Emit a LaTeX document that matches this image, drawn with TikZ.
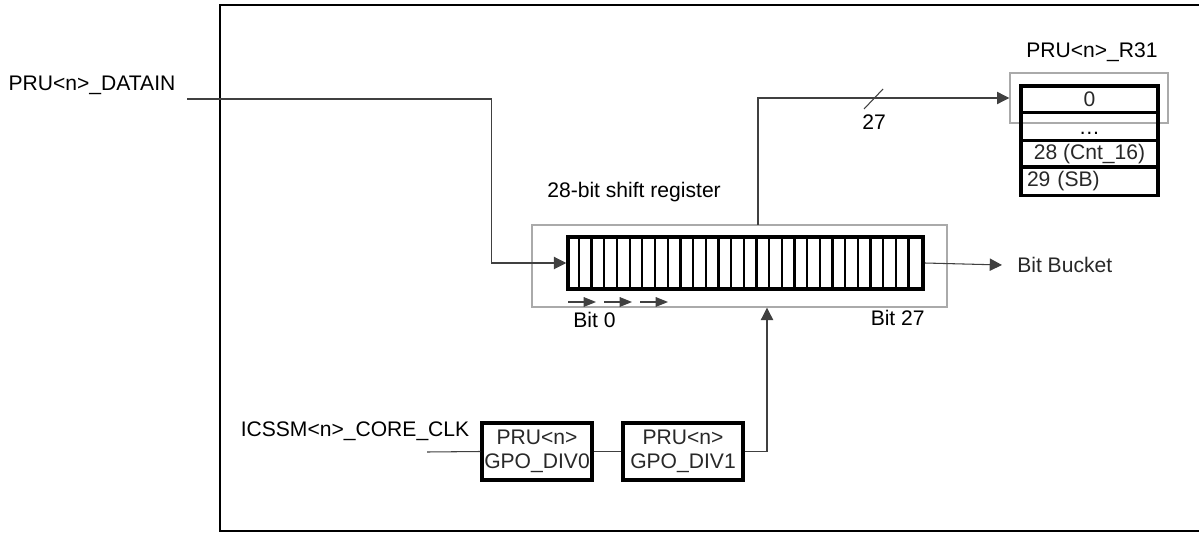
\documentclass[tikz,border=0pt]{standalone}
\usepackage{fontspec}
\setmainfont{Liberation Sans}
\usetikzlibrary{arrows.meta,positioning,calc}
\definecolor{linhacinza}{RGB}{64,64,64}
\definecolor{caixacinza}{RGB}{170,170,170}
\definecolor{textocinza}{RGB}{40,40,40}

\begin{document}
\begin{tikzpicture}[x=0.02cm, y=-0.02cm, font=\fontsize{12}{13.5}\selectfont, >={Triangle[length=7pt,width=7pt]},
    fio/.style={draw=linhacinza, line width=0.6pt},
    blocodiv/.style={draw=black, line width=1.8pt, align=center, minimum height=57*0.02cm, inner sep=1pt, text=textocinza},
    linhareg/.style={draw=black, line width=0.9pt, minimum width=135*0.02cm, inner sep=0pt, text=textocinza}]
        \useasboundingbox (0,0) rectangle (1199,533);

        % Moldura externa (aberta a direita)
        \draw[line width=1.6pt] (1202,5) -- (220,5) -- (220,531) -- (1202,531);

        % Registrador de deslocamento
        \node[draw=caixacinza, line width=0.8pt, minimum width=415*0.02cm, minimum height=82*0.02cm, inner sep=0pt] (srbox) at (739.5,266) {};
        \node[draw=black, line width=2pt, minimum width=355*0.02cm, minimum height=52*0.02cm, inner sep=0pt] (sreg) at (745.5,263) {};
        \foreach \i in {1,...,27}
            \draw[line width=1.3pt] ($(sreg.north west)+(\i*12.68,0)$) -- ($(sreg.south west)+(\i*12.68,0)$);
        \node[anchor=south west, inner sep=0pt] (srtitulo) at (547,202) {28-bit shift register};
        \node[anchor=base west, inner sep=0pt] (bit0) at (573,327) {Bit 0};
        \node[anchor=base east, inner sep=0pt] (bit27) at (925,325) {Bit 27};

        % Setas de deslocamento
        \foreach \x in {568,604,640}
            \draw[fio, -{Triangle[length=7pt,width=5.5pt]}] (\x,302) -- ++(28,0);

        % Entrada de dados
        \node (datain) at (92,85) {PRU<n>\_DATAIN};
        \coordinate (dentrada) at (187,99);
        \draw[fio, ->] (dentrada) -| ($(sreg.west)+(-75,0)$) -- (sreg.west);

        % Saida para o bit bucket
        \node[anchor=west, inner xsep=8.5pt, text=textocinza] (bucket) at (1002,265) {Bit Bucket};
        \draw[fio, ->] (sreg.east) -- (bucket.west);

        % Registrador R31
        \node (r31titulo) at (1092,52) {PRU<n>\_R31};
        \node[draw=caixacinza, line width=0.8pt, minimum width=158*0.02cm, minimum height=50*0.02cm, inner sep=0pt] (r31cinza) at (1089,98) {};
        \node[linhareg, minimum height=25*0.02cm] (r0) at (1089.5,99.5) {0};
        \node[linhareg, minimum height=26*0.02cm, below=0pt of r0] (rdots) {};
        \node[anchor=base] at ($(rdots.south)+(0,-6)$) {…};
        \node[linhareg, minimum height=25*0.02cm, below=0pt of rdots] (r28) {28 (Cnt\_16)};
        \node[linhareg, minimum height=27*0.02cm, below=0pt of r28, align=left, text width=125*0.02cm] (r29) {29 (SB)};
        \draw[line width=2pt] (r0.north west) rectangle (r29.south east);

        % Caminho de 27 bits
        \coordinate (saida) at (758,225);
        \draw[fio, ->] (saida) |- (r31cinza.west);
        \draw[fio] (864,109) -- (883,89);
        \node (n27) at (874,122) {27};

        % Relogio e divisores
        \node (clk) at (355,431) {ICSSM<n>\_CORE\_CLK};
        \coordinate (clkin) at (427,452);
        \node[blocodiv, minimum width=110*0.02cm] (div0) at (537,451.5) {PRU<n>\\GPO\_DIV0};
        \node[blocodiv, minimum width=120*0.02cm] (div1) at (683,451.5) {PRU<n>\\GPO\_DIV1};
        \draw[fio] (clkin) -- (div0.west);
        \draw[fio] (div0.east) -- (div1.west);
        \draw[fio, ->] (div1.east) -| ($(srbox.south)+(27.5,0)$);
    \end{tikzpicture}
\end{document}
